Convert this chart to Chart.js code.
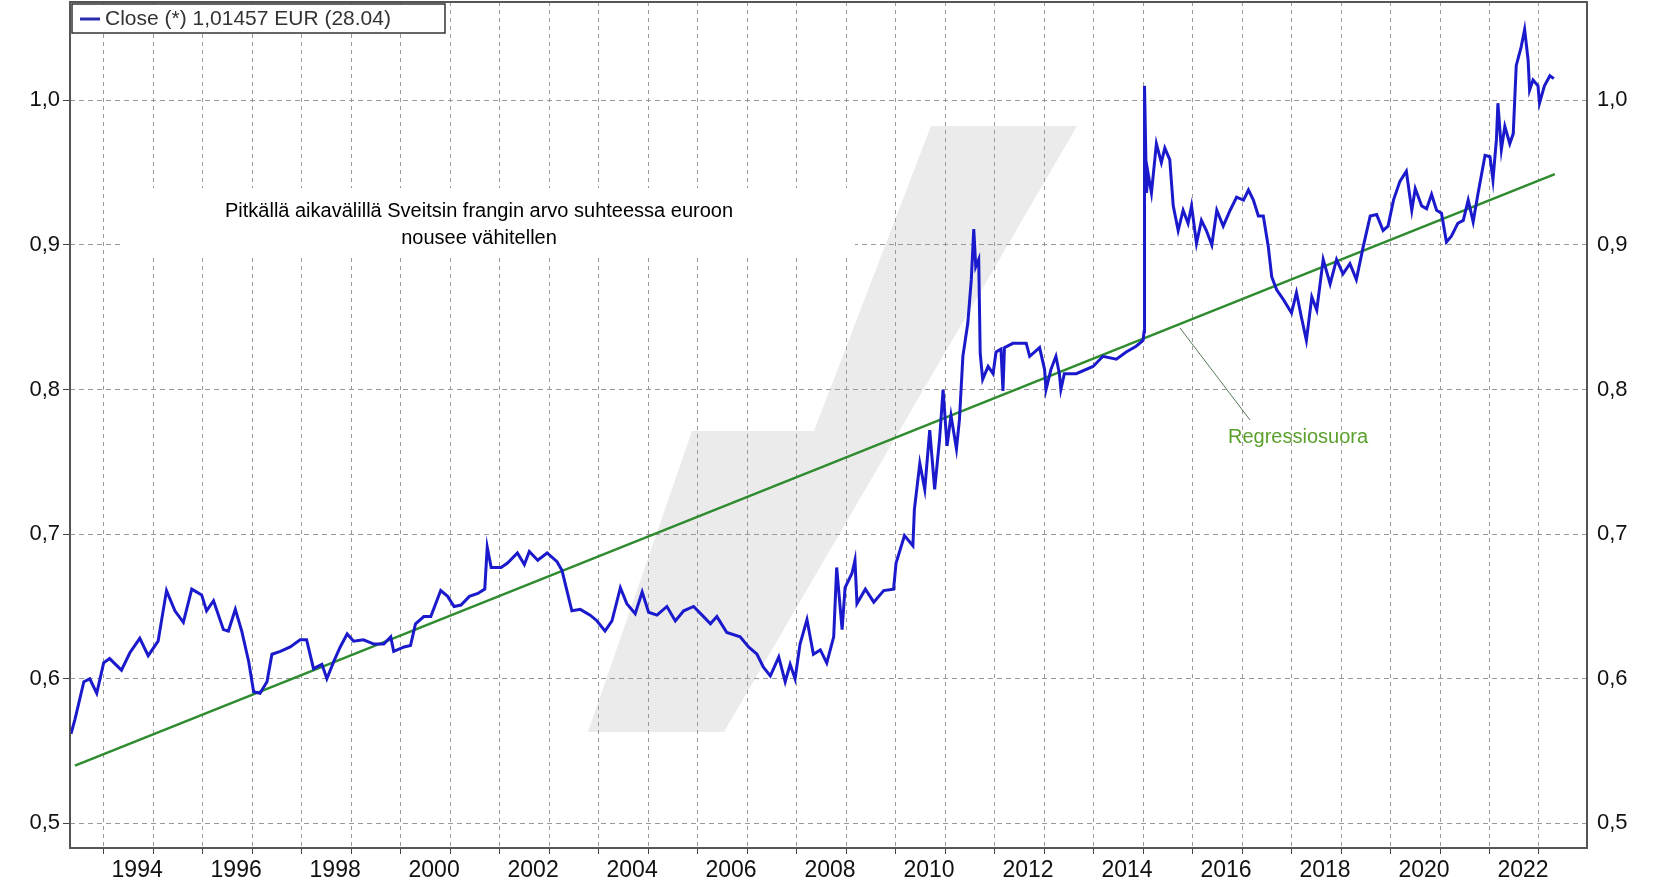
<!DOCTYPE html>
<html><head><meta charset="utf-8">
<script src="https://cdn.jsdelivr.net/npm/chart.js@4"></script>
<style>html,body{margin:0;padding:0;background:#fff}#w{width:1667px;height:892px}</style>
</head><body><div id="w"><canvas id="c"></canvas></div>
<script>
const years = [1992.34,1992.42,1992.6,1992.72,1992.86,1993.0,1993.12,1993.36,1993.53,1993.73,1993.9,1994.1,1994.27,1994.44,1994.61,1994.78,1994.98,1995.08,1995.22,1995.42,1995.52,1995.66,1995.79,1995.93,1996.03,1996.16,1996.3,1996.4,1996.57,1996.77,1996.97,1997.1,1997.24,1997.41,1997.51,1997.65,1997.78,1997.92,1998.05,1998.25,1998.46,1998.66,1998.8,1998.86,1999.07,1999.2,1999.3,1999.47,1999.61,1999.81,1999.95,2000.08,2000.22,2000.39,2000.56,2000.7,2000.75,2000.83,2001.03,2001.16,2001.36,2001.5,2001.6,2001.77,2001.96,2002.16,2002.26,2002.36,2002.46,2002.63,2002.83,2002.97,2003.13,2003.27,2003.44,2003.57,2003.74,2003.88,2004.01,2004.18,2004.38,2004.55,2004.72,2004.92,2005.12,2005.26,2005.39,2005.59,2005.86,2006.03,2006.2,2006.33,2006.47,2006.64,2006.77,2006.87,2006.97,2007.07,2007.21,2007.34,2007.48,2007.61,2007.75,2007.81,2007.92,2007.98,2008.12,2008.18,2008.22,2008.39,2008.56,2008.76,2008.96,2009.01,2009.18,2009.35,2009.38,2009.49,2009.59,2009.69,2009.79,2009.89,2009.96,2010.04,2010.12,2010.23,2010.29,2010.36,2010.46,2010.53,2010.58,2010.62,2010.68,2010.71,2010.76,2010.87,2010.97,2011.03,2011.13,2011.17,2011.2,2011.37,2011.64,2011.71,2011.91,2012.01,2012.04,2012.14,2012.24,2012.31,2012.34,2012.41,2012.65,2012.99,2013.19,2013.46,2013.66,2013.86,2014.0,2014.02,2014.03,2014.07,2014.1,2014.17,2014.27,2014.37,2014.44,2014.54,2014.61,2014.71,2014.81,2014.91,2014.98,2015.08,2015.18,2015.28,2015.39,2015.49,2015.62,2015.76,2015.89,2016.03,2016.13,2016.23,2016.33,2016.43,2016.53,2016.6,2016.7,2016.84,2017.0,2017.1,2017.2,2017.3,2017.41,2017.51,2017.64,2017.78,2017.91,2018.04,2018.18,2018.31,2018.45,2018.59,2018.72,2018.85,2018.95,2019.06,2019.19,2019.32,2019.43,2019.5,2019.63,2019.73,2019.83,2019.93,2020.03,2020.13,2020.23,2020.36,2020.47,2020.57,2020.67,2020.77,2020.91,2021.01,2021.07,2021.14,2021.17,2021.24,2021.31,2021.41,2021.48,2021.54,2021.64,2021.71,2021.78,2021.81,2021.88,2021.98,2022.01,2022.11,2022.22,2022.3];
const closeValues = [0.562,0.572,0.598,0.600,0.590,0.611,0.614,0.606,0.618,0.628,0.616,0.626,0.661,0.647,0.639,0.662,0.658,0.647,0.654,0.634,0.633,0.648,0.633,0.612,0.591,0.590,0.598,0.617,0.619,0.622,0.627,0.627,0.607,0.610,0.600,0.612,0.622,0.631,0.626,0.627,0.624,0.624,0.629,0.619,0.622,0.623,0.638,0.643,0.643,0.661,0.657,0.650,0.651,0.657,0.659,0.662,0.691,0.677,0.677,0.680,0.687,0.679,0.688,0.682,0.687,0.681,0.675,0.661,0.647,0.648,0.644,0.640,0.633,0.640,0.663,0.652,0.645,0.660,0.646,0.644,0.650,0.640,0.647,0.650,0.643,0.638,0.643,0.632,0.629,0.622,0.617,0.608,0.602,0.615,0.598,0.610,0.600,0.624,0.641,0.617,0.620,0.611,0.629,0.677,0.634,0.663,0.673,0.682,0.652,0.662,0.653,0.661,0.662,0.680,0.699,0.692,0.717,0.749,0.731,0.772,0.731,0.766,0.800,0.761,0.782,0.759,0.779,0.823,0.846,0.876,0.911,0.885,0.890,0.825,0.807,0.816,0.811,0.826,0.828,0.799,0.829,0.832,0.832,0.823,0.829,0.814,0.800,0.814,0.823,0.811,0.800,0.811,0.811,0.816,0.823,0.821,0.826,0.830,0.834,0.840,1.010,0.936,0.950,0.936,0.970,0.957,0.967,0.959,0.927,0.910,0.924,0.915,0.927,0.901,0.917,0.910,0.900,0.924,0.913,0.924,0.933,0.931,0.938,0.931,0.920,0.920,0.899,0.878,0.869,0.862,0.853,0.867,0.850,0.834,0.864,0.855,0.890,0.873,0.890,0.880,0.887,0.876,0.899,0.920,0.921,0.910,0.913,0.931,0.944,0.951,0.924,0.939,0.927,0.925,0.935,0.924,0.922,0.902,0.906,0.915,0.917,0.931,0.916,0.936,0.962,0.961,0.945,0.973,0.998,0.966,0.982,0.970,0.977,1.024,1.037,1.049,1.028,1.007,1.014,1.010,0.998,1.010,1.017,1.015];
const regYears = [1992.42, 2022.32];
const regValues = [0.540, 0.949];
const yTicks = [0.5,0.6,0.7,0.8,0.9,1.0];
const legendText = 'Close (*) 1,01457 EUR (28.04)';
const noteLines = ['Pitkällä aikavälillä Sveitsin frangin arvo suhteessa euroon','nousee vähitellen'];
const regLabel = 'Regressiosuora';

const FONT = '"Liberation Sans", Arial, sans-serif';
const deco = {
  id:'deco',
  beforeDraw(ch){
    const c=ch.ctx; c.save(); c.fillStyle='#ebebeb';
    c.beginPath();
    [[931,126],[1077,126],[724,732],[588,732],[692,431],[814,431]].forEach((p,i)=>i?c.lineTo(p[0],p[1]):c.moveTo(p[0],p[1]));
    c.closePath(); c.fill(); c.restore();
  },
  afterDraw(ch){
    const c=ch.ctx, a=ch.chartArea; c.save();
    c.strokeStyle='#555'; c.lineWidth=2; c.strokeRect(a.left,a.top,a.right-a.left,a.bottom-a.top);
    c.fillStyle='#fff'; c.fillRect(72,4,373,29); c.strokeStyle='#333'; c.lineWidth=1.5; c.strokeRect(72,4,373,29);
    c.strokeStyle='#2b2bb0'; c.lineWidth=3; c.beginPath(); c.moveTo(80,19); c.lineTo(100,19); c.stroke();
    c.fillStyle='#333'; c.font='21px '+FONT; c.textBaseline='middle'; c.textAlign='left'; c.fillText(legendText,105,19);
    c.fillStyle='#fff'; c.fillRect(120,188,735,70);
    c.fillStyle='#000'; c.font='20px '+FONT; c.textAlign='center';
    c.fillText(noteLines[0],479,211); c.fillText(noteLines[1],479,238);
    c.strokeStyle='#557755'; c.lineWidth=1; c.beginPath(); c.moveTo(1180,328); c.lineTo(1250,420); c.stroke();
    c.fillStyle='#5aa02c'; c.font='20px '+FONT; c.fillText(regLabel,1298,437);
    c.restore();
  }
};
const yFmt = v => v.toFixed(1).replace('.',',');
const yAxis = (pos) => ({
  type:'linear', position:pos, min:0.483, max:1.068,
  afterBuildTicks:s=>{s.ticks=yTicks.map(v=>({value:v}));},
  afterFit:s=>{s.width = pos==='left'?70:80; s.paddingTop=0; s.paddingBottom=0;},
  grid:{display:pos==='left', color:'#999', tickLength:7, tickColor:'#444'},
  border:{display:false, dash:[5,4]},
  ticks:{callback:yFmt, color:'#111', font:{size:22,family:FONT}, padding:3}
});
new Chart(document.getElementById('c'),{
  type:'line',
  data:{datasets:[
    {data:years.map((x,i)=>({x,y:closeValues[i]})), borderColor:'#1a1acc', borderWidth:3, pointRadius:0, tension:0},
    {data:regYears.map((x,i)=>({x,y:regValues[i]})), borderColor:'#2e8b2e', borderWidth:2.5, pointRadius:0}
  ]},
  options:{
    responsive:true, maintainAspectRatio:false, animation:false,
    layout:{padding:{top:2,left:0,right:0,bottom:0}},
    plugins:{legend:{display:false}, tooltip:{enabled:false}},
    scales:{
      x:{type:'linear', min:1992.32, max:2022.97,
        afterBuildTicks:s=>{const t=[];for(let y=1993;y<=2022;y++)t.push({value:y});s.ticks=t;},
        afterFit:s=>{s.height=44; s.paddingLeft=0; s.paddingRight=0;},
        grid:{color:'#999', tickLength:6, tickColor:'#444'},
        border:{display:false, dash:[4,4]},
        ticks:{autoSkip:false, maxRotation:0, labelOffset:-16, color:'#111', font:{size:23,family:FONT},
          callback:v=> (v%2===0)? String(v) : ''}
      },
      y:yAxis('left'),
      y2:yAxis('right')
    }
  },
  plugins:[deco]
});
</script></body></html>
